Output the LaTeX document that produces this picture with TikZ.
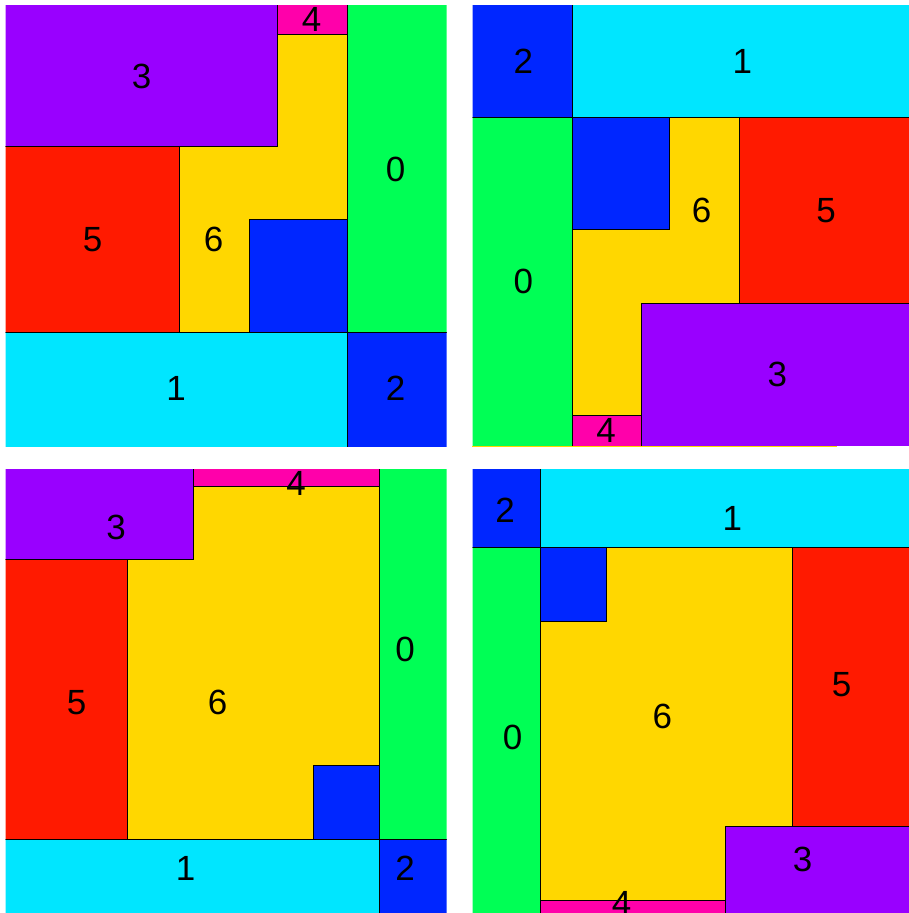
\documentclass[tikz,border=0pt]{standalone}
\usepackage{fontspec}
\setmainfont{Liberation Sans}
\definecolor{cpurple}{RGB}{153,0,255}
\definecolor{cmagenta}{RGB}{255,0,170}
\definecolor{cgreen}{RGB}{0,255,85}
\definecolor{cred}{RGB}{255,26,0}
\definecolor{cyellow}{RGB}{255,215,0}
\definecolor{ccyan}{RGB}{0,230,255}
\definecolor{cblue}{RGB}{0,38,255}
\begin{document}
\begin{tikzpicture}[x=1pt,y=-1pt,
  tile/.style={draw=black,line width=0.8pt},
  lab/.style={font=\fontsize{35}{35}\selectfont,inner sep=0pt,text=black}]
\useasboundingbox (0,0) rectangle (909,913);
% ---------- panel 1 (top left)
\begin{scope}
\clip (5.5,5.5) rectangle (446.5,446.5);
\filldraw[tile,fill=cyellow] (179,34) rectangle (347,332);
\filldraw[tile,fill=cpurple] (0,0) rectangle (277,146);
\filldraw[tile,fill=cmagenta] (277,0) rectangle (347,34);
\filldraw[tile,fill=cgreen] (347,0) rectangle (452,332);
\filldraw[tile,fill=cred] (0,146) rectangle (179,332);
\filldraw[tile,fill=cblue] (249,219) rectangle (347,332);
\filldraw[tile,fill=ccyan] (0,332) rectangle (347,452);
\filldraw[tile,fill=cblue] (347,332) rectangle (452,452);
\end{scope}
\node[lab] (a3) at (141.7,76) {3};
\node[lab] (a4) at (311.7,19) {4};
\node[lab] (a0) at (395.7,169.5) {0};
\node[lab] (a5) at (92.7,239.5) {5};
\node[lab] (a6) at (213.7,239.5) {6};
\node[lab] (a1) at (176,388) {1};
\node[lab] (a2) at (395.7,388) {2};
% ---------- panel 2 (top right)
\draw[cyellow,line width=1pt] (472,446.5) -- (837,446.5);
\begin{scope}
\clip (472.5,5.5) rectangle (909,445.8);
\filldraw[tile,fill=cyellow] (572,117) rectangle (739,415);
\filldraw[tile,fill=cblue] (467,0) rectangle (572,117);
\filldraw[tile,fill=ccyan] (572,0) rectangle (915,117);
\filldraw[tile,fill=cgreen] (467,117) rectangle (572,452);
\filldraw[tile,fill=cblue] (572,117) rectangle (669,229);
\filldraw[tile,fill=cred] (739,117) rectangle (915,303);
\filldraw[tile,fill=cpurple] (641,303) rectangle (915,452);
\filldraw[tile,fill=cmagenta] (572,415) rectangle (641,452);
\end{scope}
\node[lab] (b2) at (523.3,61.7) {2};
\node[lab] (b1) at (742.3,61.7) {1};
\node[lab] (b6) at (701.7,210.7) {6};
\node[lab] (b5) at (826,210.7) {5};
\node[lab] (b0) at (523.3,281.7) {0};
\node[lab] (b3) at (777.3,374.3) {3};
\node[lab] (b4) at (606,430) {4};
% ---------- panel 3 (bottom left)
\begin{scope}
\clip (5.5,469.5) rectangle (446.5,912);
\filldraw[tile,fill=cyellow] (127,486) rectangle (379,839);
\filldraw[tile,fill=cpurple] (0,464) rectangle (193,559);
\filldraw[tile,fill=cmagenta] (193,464) rectangle (379,486);
\filldraw[tile,fill=cgreen] (379,464) rectangle (452,839);
\filldraw[tile,fill=cred] (0,559) rectangle (127,839);
\filldraw[tile,fill=cblue] (313,765) rectangle (379,839);
\filldraw[tile,fill=ccyan] (0,839) rectangle (379,918);
\filldraw[tile,fill=cblue] (379,839) rectangle (452,918);
\end{scope}
\node[lab] (c3) at (116,527.7) {3};
\node[lab] (c4) at (296,483.3) {4};
\node[lab] (c0) at (405,649) {0};
\node[lab] (c5) at (76.7,702.3) {5};
\node[lab] (c6) at (217.7,702.3) {6};
\node[lab] (c1) at (185.7,868.3) {1};
\node[lab] (c2) at (405,868.3) {2};
% ---------- panel 4 (bottom right)
\begin{scope}
\clip (472.5,469.5) rectangle (909,913);
\filldraw[tile,fill=cyellow] (540,547) rectangle (792,900);
\filldraw[tile,fill=cblue] (467,464) rectangle (540,547);
\filldraw[tile,fill=ccyan] (540,464) rectangle (915,547);
\filldraw[tile,fill=cgreen] (467,547) rectangle (540,918);
\filldraw[tile,fill=cblue] (540,547) rectangle (606,621);
\filldraw[tile,fill=cred] (792,547) rectangle (915,826);
\filldraw[tile,fill=cpurple] (725,826) rectangle (915,918);
\filldraw[tile,fill=cmagenta] (540,900) rectangle (725,918);
\end{scope}
\node[lab] (d2) at (505,510) {2};
\node[lab] (d1) at (732.3,518.3) {1};
\node[lab] (d6) at (662.3,716.7) {6};
\node[lab] (d5) at (841.7,685) {5};
\node[lab] (d0) at (512.7,737.7) {0};
\node[lab] (d3) at (802.7,859.3) {3};
\node[lab] (d4) at (621.7,903.3) {4};
\end{tikzpicture}
\end{document}
